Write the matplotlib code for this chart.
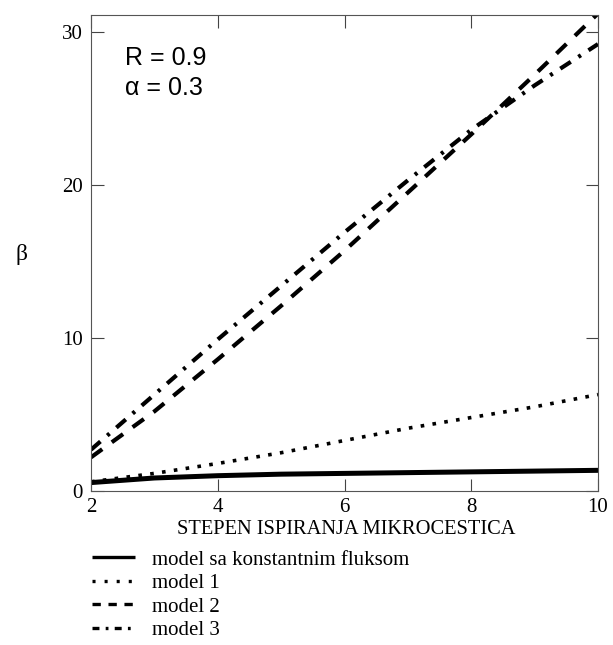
import matplotlib
matplotlib.use("Agg")
import matplotlib.pyplot as plt
from matplotlib.lines import Line2D

# stepen ispiranja mikrocestica (x) i beta za svaki model
x = [2, 3, 4, 5, 6, 7, 8, 9, 10]
beta_konst = [0.55, 0.85, 1.0, 1.1, 1.15, 1.2, 1.25, 1.3, 1.35]
beta_m1 = [0.6, 1.15, 1.8, 2.5, 3.3, 4.1, 4.8, 5.5, 6.3]
beta_m2 = [2.2, 5.2, 8.6, 12.1, 15.7, 19.5, 23.3, 27.2, 31.2]
beta_m3 = [2.7, 6.3, 9.9, 13.4, 16.9, 20.3, 23.6, 26.5, 29.2]

labels = ["model sa konstantnim fluksom", "model 1", "model 2", "model 3"]
x_ticks = [2, 4, 6, 8, 10]
y_ticks = [0, 10, 20, 30]

plt.rcParams["font.family"] = ["Liberation Serif", "DejaVu Serif"]
plt.rcParams["lines.scale_dashes"] = False

fig = plt.figure(figsize=(6.13, 6.45), dpi=100)
ax = fig.add_axes([91 / 613, 1 - 491 / 645, 507 / 613, 476 / 645])

ax.plot(x, beta_konst, color="black", lw=3.6, solid_capstyle="butt")
ax.plot(x, beta_m1, color="black", lw=2.6, dashes=(2.6, 6.0))
ax.plot(x, beta_m2, color="black", lw=3.0, dashes=(10.0, 8.5))
ax.plot(x, beta_m3, color="black", lw=3.0, dashes=(9.0, 6.5, 2.2, 6.5))

ax.set_xlim(2, 10)
ax.set_ylim(0, 31.1)
ax.set_xticks(x_ticks)
ax.set_yticks(y_ticks)
ax.tick_params(direction="in", length=9, width=0.8, color="#444444",
               top=True, right=True, labelsize=15)
ax.tick_params(axis="x", pad=5)
ax.tick_params(axis="y", pad=6)
for s in ax.spines.values():
    s.set_linewidth(0.8)
    s.set_color("#555555")

fig.text(346 / 613, 1 - 529 / 645, "STEPEN ISPIRANJA MIKROCESTICA",
         fontsize=14.7, ha="center", va="center")
fig.text(22 / 613, 1 - 254 / 645, "β", fontsize=17, ha="center", va="center")

ax.text(0.067, 0.910, "R = 0.9", transform=ax.transAxes, fontsize=18,
        family=["Liberation Sans", "DejaVu Sans"], va="center")
ax.text(0.067, 0.847, "α = 0.3", transform=ax.transAxes, fontsize=18,
        family=["Liberation Sans", "DejaVu Sans"], va="center")

# legenda ispod grafika, tanje linije
handles = [
    Line2D([], [], color="black", lw=2.4, solid_capstyle="butt"),
    Line2D([], [], color="black", lw=2.4, dashes=(2.2, 6.5)),
    Line2D([], [], color="black", lw=2.4, dashes=(6.0, 5.5)),
    Line2D([], [], color="black", lw=2.4, dashes=(5.0, 4.5, 2.0, 4.5)),
]
fig.legend(handles, labels, loc="upper left",
           bbox_to_anchor=(92 / 613, 1 - 550 / 645),
           frameon=False, fontsize=15, handlelength=2.07, handletextpad=0.8,
           labelspacing=0.19, borderpad=0, borderaxespad=0)

fig.savefig("out.png", dpi=100)
